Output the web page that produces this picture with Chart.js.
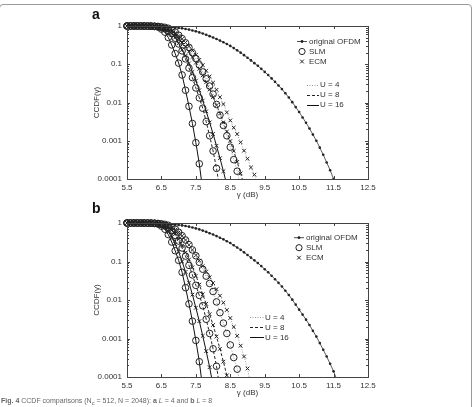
<!DOCTYPE html>
<html>
<head>
<meta charset="utf-8">
<script src="https://cdn.jsdelivr.net/npm/chart.js@4.4.1/dist/chart.umd.min.js"></script>
<style>
    html, body { margin: 0; padding: 0; background: #fff; }
    body { width: 476px; height: 407px; position: relative; overflow: hidden; font-family: 'Liberation Sans', Arial, sans-serif; }
    #frame { position: absolute; left: -1px; top: 4px; width: 473px; height: 430px; border: 1px solid #9a9a9a; border-radius: 4px; box-sizing: border-box; }
    canvas { position: absolute; left: 0; }
    #chartA { top: 0; }
    #chartB { top: 200px; }
    #caption { position: absolute; left: 1px; top: 397px; font-size: 7px; color: #666; white-space: nowrap; }
</style>
</head>
<body>
<div id="frame"></div>
<canvas id="chartA" width="476" height="200"></canvas>
<canvas id="chartB" width="476" height="207"></canvas>
<div id="caption"><b>Fig. 4</b> CCDF comparisons (N<sub>c</sub> = 512, N = 2048): <b>a</b> <i>L</i> = 4 and <b>b</b> <i>L</i> = 8</div>

<script>
// Eixo x (dB) - grade de amostragem dos marcadores
const gammaDb = [5.5, 5.6, 5.7, 5.8, 5.9, 6.0, 6.1, 6.2, 6.3, 6.4, 6.5, 6.6, 6.7, 6.8, 6.9, 7.0, 7.1, 7.2, 7.3, 7.4,
    7.5, 7.6, 7.7, 7.8, 7.9, 8.0, 8.1, 8.2, 8.3, 8.4, 8.5, 8.6, 8.7, 8.8, 8.9, 9.0, 9.1, 9.2, 9.3, 9.4,
    9.5, 9.6, 9.7, 9.8, 9.9, 10.0, 10.1, 10.2, 10.3, 10.4, 10.5, 10.6, 10.7, 10.8, 10.9, 11.0, 11.1, 11.2, 11.3, 11.4,
    11.5, 11.6];

const xTicks = [5.5, 6.5, 7.5, 8.5, 9.5, 10.5, 11.5, 12.5];
const yTicks = [1, 0.1, 0.01, 0.001, 0.0001];
const yTickLabels = ['1', '0.1', '0.01', '0.001', '0.0001'];

// original OFDM
const origA = [1, 1, 0.998, 0.998, 0.995, 0.993, 0.991, 0.986, 0.982, 0.975,
    0.966, 0.955, 0.94, 0.925, 0.908, 0.891, 0.867, 0.838, 0.804, 0.766,
    0.724, 0.681, 0.634, 0.589, 0.543, 0.501, 0.457, 0.415, 0.376, 0.337,
    0.302, 0.264, 0.231, 0.201, 0.173, 0.148, 0.126, 0.107, 0.0912, 0.0759,
    0.0631, 0.0525, 0.0427, 0.0347, 0.0279, 0.0224, 0.0174, 0.0135, 0.0102, 0.00759,
    0.00562, 0.00407, 0.00295, 0.00209, 0.00145, 0.001, 0.00066, 0.00043, 0.00027, 0.00017,
    0.0001];
const origB = [1, 1, 0.998, 0.998, 0.995, 0.993, 0.991, 0.986, 0.982, 0.975,
    0.966, 0.955, 0.94, 0.925, 0.908, 0.891, 0.867, 0.838, 0.804, 0.766,
    0.724, 0.681, 0.634, 0.589, 0.543, 0.501, 0.457, 0.415, 0.376, 0.337,
    0.302, 0.264, 0.231, 0.201, 0.173, 0.148, 0.126, 0.107, 0.0912, 0.0759,
    0.0631, 0.0525, 0.0427, 0.0347, 0.0279, 0.0224, 0.0174, 0.0135, 0.0102, 0.00759,
    0.00562, 0.00417, 0.00309, 0.00224, 0.00158, 0.00112, 0.00076, 0.00051, 0.00034, 0.00022,
    0.00014];

// SLM (igual nos dois painéis)
const slm16 = [1, 1, 1, 1, 0.999, 0.998, 0.995, 0.989, 0.973, 0.94, 0.83, 0.69, 0.5, 0.32, 0.19,
    0.107, 0.0525, 0.0209, 0.00794, 0.00282, 0.00089, 0.00025];
const slm8 = [1, 1, 1, 1, 0.999, 0.998, 0.996, 0.99, 0.98, 0.96, 0.912, 0.851, 0.759, 0.631, 0.479,
    0.339, 0.224, 0.138, 0.0794, 0.0447, 0.024, 0.0132, 0.00708, 0.00316, 0.00135, 0.00054, 0.00019];
const slm4 = [1, 1, 1, 1, 1, 0.999, 0.998, 0.995, 0.989, 0.977, 0.955, 0.923, 0.871, 0.794, 0.692,
    0.575, 0.468, 0.363, 0.275, 0.2, 0.141, 0.0955, 0.0631, 0.0417, 0.0269, 0.0166, 0.00891, 0.00468,
    0.00251, 0.00135, 0.00068, 0.00032, 0.00016];

// ECM painel a (L = 4)
const ecmA16 = [1, 1, 1, 1, 1, 0.998, 0.995, 0.989, 0.977, 0.955, 0.912, 0.851, 0.759, 0.63, 0.5,
    0.355, 0.24, 0.166, 0.105, 0.063, 0.0372, 0.0209, 0.0112, 0.00589, 0.00302, 0.00151, 0.00074,
    0.00035, 0.00016];
const ecmA8 = [1, 1, 1, 1, 1, 0.999, 0.997, 0.993, 0.985, 0.97, 0.94, 0.9, 0.84, 0.74, 0.61,
    0.48, 0.38, 0.288, 0.214, 0.155, 0.11, 0.0759, 0.0513, 0.0339, 0.0219, 0.0138, 0.00851, 0.00513,
    0.00302, 0.00174, 0.00098, 0.00054, 0.00028, 0.00014];
const ecmA4 = [1, 1, 1, 1, 1, 0.998, 0.995, 0.99, 0.98, 0.96, 0.93, 0.885, 0.82, 0.74, 0.65,
    0.55, 0.455, 0.37, 0.295, 0.23, 0.175, 0.13, 0.095, 0.068, 0.048, 0.033, 0.0215, 0.0138,
    0.0091, 0.0055, 0.0034, 0.0022, 0.0015, 0.00091, 0.00055, 0.00034, 0.0002, 0.00013];

// ECM painel b (L = 8)
const ecmB16 = [1, 1, 1, 1, 1, 0.998, 0.995, 0.989, 0.975, 0.945, 0.87, 0.76, 0.6, 0.43, 0.282,
    0.178, 0.1, 0.0537, 0.0282, 0.0138, 0.0063, 0.00282, 0.00117, 0.00047, 0.00018];
const ecmB8 = [1, 1, 1, 1, 1, 0.999, 0.997, 0.992, 0.983, 0.965, 0.93, 0.87, 0.78, 0.66, 0.52,
    0.38, 0.26, 0.17, 0.112, 0.0708, 0.0427, 0.0251, 0.0141, 0.00794, 0.00427, 0.00224, 0.00112,
    0.00054, 0.00025, 0.00011];
const ecmB4 = [1, 1, 1, 1, 1, 0.998, 0.995, 0.99, 0.98, 0.96, 0.93, 0.89, 0.83, 0.76, 0.67,
    0.57, 0.46, 0.36, 0.27, 0.2, 0.145, 0.105, 0.0759, 0.055, 0.0389, 0.0275, 0.0191, 0.0129,
    0.0085, 0.0055, 0.0034, 0.002, 0.00117, 0.00065, 0.00034, 0.000166];

// ponto final das curvas (abaixo de 1e-4, a linha é cortada no eixo)
const tailsSlm = [0.00005, 0.00005, 0.00006];     // U = 16, 8, 4
const tailsEcmA = [0.00007, 0.00007, 0.00007];
const tailsEcmB = [0.00006, 0.00005, 0.00006];
const tailsOrig = [null, 0.000083];

const FONT = "'Liberation Sans', Arial, sans-serif";

const markers = {
    dot: { style: 'circle', radius: 1.3, fill: '#222', border: 0 },
    circle: { style: 'circle', radius: 3.3, fill: 'rgba(0,0,0,0)', border: 1 },
    cross: { style: 'crossRot', radius: 2.6, fill: 'rgba(0,0,0,0)', border: 1 }
};
const lines = {
    orig: { color: '#333', width: 0.8, dash: [] },
    u16: { color: '#111', width: 1, dash: [] },
    u8: { color: '#222', width: 1, dash: [3, 2] },
    u4: { color: '#9a9a9a', width: 1, dash: [1, 1.5] }
};

function series(values, tail, marker, line) {
    const n = values.length;
    const data = values.map((v, i) => ({ x: gammaDb[i], y: v }));
    if (tail !== null) data.push({ x: gammaDb[n], y: tail });
    return {
        data: data,
        borderColor: line.color,
        borderWidth: line.width,
        borderDash: line.dash,
        pointStyle: marker.style,
        pointRadius: ctx => ctx.dataIndex < n ? marker.radius : 0,
        pointHoverRadius: 0,
        pointBorderColor: '#222',
        pointBackgroundColor: marker.fill,
        pointBorderWidth: marker.border,
        fill: false,
        tension: 0,
        clip: { left: 6, top: 6, right: 6, bottom: 0 }
    };
}

function decorPlugin(cfg) {
    return {
        id: 'decor',
        afterDraw(chart) {
            const { ctx, chartArea: a, scales: { x, y } } = chart;
            ctx.save();
            ctx.strokeStyle = '#444';
            ctx.lineWidth = 1;
            ctx.setLineDash([]);
            ctx.strokeRect(a.left + 0.5, a.top + 0.5, a.right - a.left, a.bottom - a.top);

            // ticks para dentro nos quatro lados
            ctx.beginPath();
            xTicks.forEach(v => {
                const px = Math.round(x.getPixelForValue(v)) + 0.5;
                ctx.moveTo(px, a.bottom); ctx.lineTo(px, a.bottom - 3);
                ctx.moveTo(px, a.top); ctx.lineTo(px, a.top + 3);
            });
            yTicks.forEach(v => {
                const py = Math.round(y.getPixelForValue(v)) + 0.5;
                ctx.moveTo(a.left, py); ctx.lineTo(a.left + 3, py);
                ctx.moveTo(a.right, py); ctx.lineTo(a.right - 3, py);
            });
            yTicks.slice(1).forEach(d => {
                for (let m = 2; m <= 9; m++) {
                    const py = Math.round(y.getPixelForValue(m * d)) + 0.5;
                    ctx.moveTo(a.left, py); ctx.lineTo(a.left + 2, py);
                    ctx.moveTo(a.right, py); ctx.lineTo(a.right - 2, py);
                }
            });
            ctx.stroke();

            // títulos dos eixos
            ctx.fillStyle = '#333';
            ctx.font = '8px ' + FONT;
            ctx.textAlign = 'center';
            ctx.textBaseline = 'middle';
            ctx.fillText('γ (dB)', (a.left + a.right) / 2, cfg.xTitleY);
            ctx.save();
            ctx.translate(97, (a.top + a.bottom) / 2);
            ctx.rotate(-Math.PI / 2);
            ctx.fillText('CCDF(γ)', 0, 0);
            ctx.restore();

            // letra do painel
            ctx.fillStyle = '#111';
            ctx.font = 'bold 14px ' + FONT;
            ctx.textAlign = 'left';
            ctx.textBaseline = 'alphabetic';
            ctx.fillText(cfg.letter, 92, cfg.letterY);

            // legenda 1: original OFDM / SLM / ECM
            const L1 = cfg.legend1;
            ctx.font = '8px ' + FONT;
            ctx.textBaseline = 'middle';
            ctx.strokeStyle = '#222';
            ctx.beginPath();
            ctx.lineWidth = 0.8;
            ctx.moveTo(L1.mx - 5, L1.y); ctx.lineTo(L1.mx + 5, L1.y);
            ctx.stroke();
            ctx.beginPath();
            ctx.arc(L1.mx, L1.y, 1.4, 0, Math.PI * 2);
            ctx.fillStyle = '#222';
            ctx.fill();
            ctx.lineWidth = 1;
            ctx.beginPath();
            ctx.arc(L1.mx, L1.y + 10, 3.1, 0, Math.PI * 2);
            ctx.stroke();
            ctx.beginPath();
            ctx.moveTo(L1.mx - 1.9, L1.y + 18.1); ctx.lineTo(L1.mx + 1.9, L1.y + 21.9);
            ctx.moveTo(L1.mx + 1.9, L1.y + 18.1); ctx.lineTo(L1.mx - 1.9, L1.y + 21.9);
            ctx.stroke();
            ctx.fillStyle = '#333';
            ctx.fillText('original OFDM', L1.tx, L1.y);
            ctx.fillText('SLM', L1.tx, L1.y + 10);
            ctx.fillText('ECM', L1.tx, L1.y + 20);

            // legenda 2: U = 4 / 8 / 16
            const L2 = cfg.legend2;
            [['u4', 'U = 4'], ['u8', 'U = 8'], ['u16', 'U = 16']].forEach(([k, label], i) => {
                const yy = Math.round(L2.y + i * 10) + 0.5;
                ctx.beginPath();
                ctx.strokeStyle = lines[k].color;
                ctx.lineWidth = 1;
                ctx.setLineDash(lines[k].dash);
                ctx.moveTo(L2.x1, yy); ctx.lineTo(L2.x2, yy);
                ctx.stroke();
                ctx.setLineDash([]);
                ctx.fillText(label, L2.x2 + 1, L2.y + i * 10);
            });
            ctx.restore();
        }
    };
}

function buildChart(canvasId, datasets, pad, cfg) {
    return new Chart(document.getElementById(canvasId).getContext('2d'), {
        type: 'line',
        data: { datasets: datasets },
        options: {
            responsive: false,
            animation: false,
            devicePixelRatio: 1,
            layout: { padding: pad },
            plugins: { legend: { display: false }, tooltip: { enabled: false }, title: { display: false } },
            scales: {
                x: {
                    type: 'linear',
                    min: 5.5,
                    max: 12.5,
                    afterBuildTicks: scale => { scale.ticks = xTicks.map(v => ({ value: v })); },
                    afterFit: scale => { scale.height = 20; },
                    grid: { display: false, drawTicks: false },
                    border: { display: false },
                    ticks: { autoSkip: false, maxRotation: 0, padding: 4, color: '#333', font: { family: FONT, size: 8 } }
                },
                y: {
                    type: 'logarithmic',
                    min: 0.0001,
                    max: 1,
                    afterBuildTicks: scale => { scale.ticks = yTicks.map(v => ({ value: v })); },
                    afterFit: scale => { scale.width = 30; },
                    grid: { display: false, drawTicks: false },
                    border: { display: false },
                    ticks: {
                        autoSkip: false,
                        padding: 5,
                        color: '#333',
                        font: { family: FONT, size: 8 },
                        callback: v => yTickLabels[yTicks.indexOf(v)]
                    }
                }
            }
        },
        plugins: [decorPlugin(cfg)]
    });
}

const datasetsA = [
    series(origA, tailsOrig[0], markers.dot, lines.orig),
    series(slm16, tailsSlm[0], markers.circle, lines.u16),
    series(slm8, tailsSlm[1], markers.circle, lines.u8),
    series(slm4, tailsSlm[2], markers.circle, lines.u4),
    series(ecmA16, tailsEcmA[0], markers.cross, lines.u16),
    series(ecmA8, tailsEcmA[1], markers.cross, lines.u8),
    series(ecmA4, tailsEcmA[2], markers.cross, lines.u4)
];

const datasetsB = [
    series(origB, tailsOrig[1], markers.dot, lines.orig),
    series(slm16, tailsSlm[0], markers.circle, lines.u16),
    series(slm8, tailsSlm[1], markers.circle, lines.u8),
    series(slm4, tailsSlm[2], markers.circle, lines.u4),
    series(ecmB16, tailsEcmB[0], markers.cross, lines.u16),
    series(ecmB8, tailsEcmB[1], markers.cross, lines.u8),
    series(ecmB4, tailsEcmB[2], markers.cross, lines.u4)
];

buildChart('chartA', datasetsA, { left: 97, right: 108, top: 26, bottom: 1 }, {
    letter: 'a', letterY: 19, xTitleY: 195,
    legend1: { mx: 302, tx: 309, y: 41.5 },
    legend2: { x1: 307, x2: 319, y: 84.5 }
});

buildChart('chartB', datasetsB, { left: 97, right: 108, top: 23, bottom: 10 }, {
    letter: 'b', letterY: 13, xTitleY: 193,
    legend1: { mx: 299, tx: 306, y: 37.7 },
    legend2: { x1: 250, x2: 264, y: 117.3 }
});
</script>
</body>
</html>
